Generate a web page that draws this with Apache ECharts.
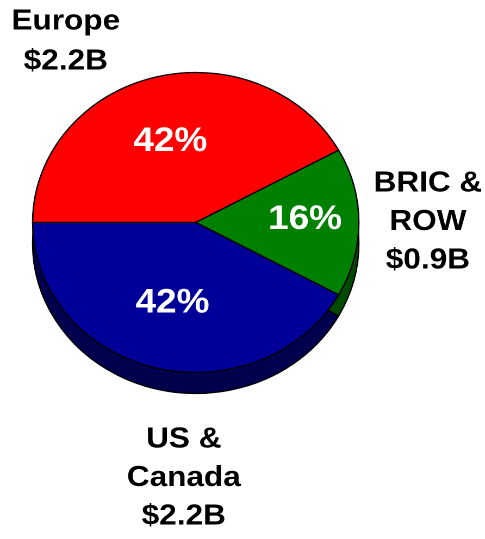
<!DOCTYPE html>
<html>
<head>
<meta charset="utf-8">
<script src="https://cdn.jsdelivr.net/npm/echarts@6/dist/echarts.min.js"></script>
<style>
html,body{margin:0;padding:0;background:#fff;overflow:hidden;}
#wrap{width:485px;height:539px;overflow:hidden;position:relative;}
#chart{width:446px;height:539px;transform:scaleX(1.0874);transform-origin:0 0;}
</style>
</head>
<body>
<div id="wrap"><div id="chart"></div></div>
<script>
// Data
const categories = ['Europe', 'BRIC &\nROW', 'US &\nCanada'];
const shares = [42, 16, 42];            // percent of total
const dollarLabels = ['$2.2B', '$0.9B', '$2.2B'];
const topColors = ['#FF0000', '#008000', '#000099'];
const sideColors = ['#800000', '#004A00', '#00004F'];

const FONT = '"Liberation Sans", Arial, Helvetica, sans-serif';
const C = [180, 222.5];
const R = 150;
const DEPTH = 21;

// nudges for the inside labels: horizontal padding [top,right,bottom,left] and vertical spacer
const pctPadding = [[0, 8, 0, 0], [0, 0, 0, 45], [0, 4, 0, 0]];
const pctSpacer = [{below: 11}, {below: 6}, {above: 10}];

const topData = categories.map((c, i) => ({
  name: c, value: shares[i],
  itemStyle: {color: topColors[i]},
  label: {padding: pctPadding[i]}
}));
const sideData = categories.map((c, i) => ({
  name: c, value: shares[i],
  itemStyle: {color: sideColors[i]}
}));

function pctFormatter(p) {
  const i = p.dataIndex;
  const t = '{p|' + shares[i] + '%}';
  const sp = pctSpacer[i];
  if (sp.below) return t + '\n{s' + i + '| }';
  if (sp.above) return '{s' + i + '| }\n' + t;
  return t;
}
const rich = {p: {color: '#fff', fontFamily: FONT, fontWeight: 'bold', fontSize: 34, lineHeight: 38}};
pctSpacer.forEach((sp, i) => {
  rich['s' + i] = {fontSize: 1, lineHeight: sp.below || sp.above || 0};
});

// outside labels (text only)
const outsideLabelPos = [
  {x: 60.5, y: 1.5, lh: 40},
  {x: 393.5, y: 164, lh: 38.5},
  {x: 169, y: 420, lh: 38.5}
];

const chart = echarts.init(document.getElementById('chart'), null, {renderer: 'canvas', devicePixelRatio: 2});
chart.setOption({
  animation: false,
  backgroundColor: '#ffffff',
  series: [
    {
      type: 'pie', silent: true, z: 1,
      center: [C[0], C[1] + DEPTH], radius: R,
      startAngle: 180, clockwise: true,
      label: {show: false}, labelLine: {show: false},
      itemStyle: {borderColor: '#000', borderWidth: 1.3},
      emphasis: {disabled: true},
      data: sideData
    },
    {
      type: 'pie', silent: true, z: 2,
      center: C, radius: R,
      startAngle: 180, clockwise: true,
      itemStyle: {borderColor: '#000', borderWidth: 1.3},
      labelLine: {show: false},
      label: {
        show: true, position: 'inside',
        formatter: pctFormatter,
        rich: rich,
        color: '#ffffff', fontFamily: FONT, fontWeight: 'bold', fontSize: 34
      },
      emphasis: {disabled: true},
      data: topData
    }
  ],
  graphic: categories.map((c, i) => ({
    type: 'text',
    x: outsideLabelPos[i].x, y: outsideLabelPos[i].y,
    style: {
      text: c + '\n' + dollarLabels[i],
      font: 'bold 29px ' + FONT,
      fill: '#000',
      align: 'center',
      verticalAlign: 'top',
      lineHeight: outsideLabelPos[i].lh
    }
  }))
});
</script>
</body>
</html>
